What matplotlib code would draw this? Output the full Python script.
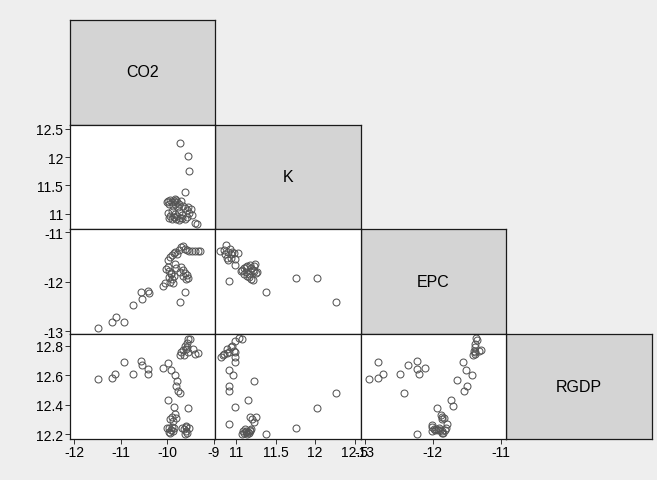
import matplotlib.pyplot as plt

plt.rcParams['font.family'] = ['Liberation Sans', 'DejaVu Sans']

names = ['CO2', 'K', 'EPC', 'RGDP']

# CO2 vs K
co2_k_x = [-9.73, -9.54, -9.52, -9.62,
           -10.00, -9.98, -9.95, -9.93, -9.90, -9.88, -9.86, -9.84, -9.82, -9.80, -9.78, -9.76,
           -9.97, -9.93, -9.90, -9.86, -9.83, -9.79, -9.75, -9.72, -9.68,
           -9.74, -9.70, -9.66, -9.62, -9.58, -9.55, -9.52, -9.49, -9.46,
           -9.95, -9.90, -9.85, -9.80, -9.74, -9.68, -9.62, -9.58, -9.40, -9.36]
co2_k_y = [12.25, 12.02, 11.76, 11.38,
           11.20, 11.23, 11.17, 11.24, 11.20, 11.14, 11.22, 11.26, 11.18, 11.24, 11.21, 11.12,
           11.02, 10.97, 11.05, 10.95, 11.00, 10.96, 11.04, 10.93, 10.98,
           11.18, 11.22, 11.14, 11.10, 11.06, 11.12, 11.02, 11.08, 10.98,
           10.92, 10.90, 10.94, 10.91, 10.89, 10.93, 10.90, 10.95, 10.84, 10.82]

# CO2 vs EPC
co2_epc_x = [-11.48, -11.19, -11.10, -10.92, -10.74, -10.54, -10.55, -10.40, -10.38, -10.08,
             -9.73, -9.62,
             -9.70, -9.66, -9.62, -9.58, -9.52, -9.46, -9.40, -9.34, -9.30,
             -9.97, -9.94, -9.90, -9.86, -9.82, -9.78, -9.75,
             -10.02, -9.98, -9.95, -9.92, -9.96, -9.90, -9.94, -9.88, -9.92, -9.86, -9.84, -9.80, -10.04,
             -9.70, -9.66, -9.62, -9.58, -9.54, -9.60, -9.66, -9.72]
co2_epc_y = [-12.93, -12.81, -12.72, -12.81, -12.47, -12.35, -12.21, -12.18, -12.22, -12.09,
             -12.42, -12.21,
             -11.30, -11.27, -11.33, -11.36, -11.38, -11.38, -11.38, -11.38, -11.38,
             -11.55, -11.50, -11.46, -11.42, -11.40, -11.44, -11.36,
             -11.75, -11.70, -11.78, -11.85, -11.90, -11.95, -12.00, -12.02, -11.82, -11.88, -11.65, -11.72, -12.03,
             -11.70, -11.76, -11.82, -11.86, -11.92, -11.95, -11.88, -11.80]

# CO2 vs RGDP
co2_gdp_x = [-11.48, -11.19, -11.11, -10.92, -10.74, -10.56, -10.54, -10.40, -10.41, -10.08,
             -9.97, -9.92, -9.82, -9.79, -9.81, -9.77, -9.72, -9.98, -9.86, -9.55,
             -9.83, -9.90, -9.94, -9.87, -9.80,
             -10.01, -9.96, -9.92, -9.88, -9.85, -9.93, -9.90, -9.95,
             -9.68, -9.64, -9.60, -9.57, -9.62, -9.59, -9.53, -9.60,
             -9.55, -9.51, -9.57, -9.62, -9.58, -9.65, -9.69, -9.72, -9.64, -9.54, -9.45, -9.39, -9.33, -9.60]
co2_gdp_y = [12.571, 12.582, 12.609, 12.689, 12.609, 12.696, 12.666, 12.643, 12.607, 12.650,
             12.684, 12.637, 12.598, 12.560, 12.526, 12.496, 12.480, 12.433, 12.385, 12.378,
             12.340, 12.320, 12.300, 12.290, 12.310,
             12.245, 12.240, 12.230, 12.220, 12.240, 12.210, 12.250, 12.215,
             12.245, 12.235, 12.220, 12.210, 12.200, 12.250, 12.240, 12.255,
             12.845, 12.845, 12.820, 12.800, 12.790, 12.770, 12.760, 12.740, 12.740, 12.760, 12.780, 12.745, 12.750, 12.780]

# K vs EPC
k_epc_x = [10.80, 10.87, 10.86, 10.90, 10.93, 10.95, 10.97, 11.02, 10.88, 10.90, 10.94, 10.98, 10.84, 10.92,
           10.98, 10.91,
           11.06, 11.08, 11.10, 11.12, 11.14, 11.17, 11.19, 11.21, 11.23, 11.25,
           11.10, 11.14, 11.16, 11.19, 11.21, 11.22, 11.24, 11.26, 11.12, 11.16,
           11.375, 11.76, 12.03, 12.26]
k_epc_y = [-11.38, -11.26, -11.44, -11.40, -11.44, -11.39, -11.42, -11.42, -11.52, -11.55, -11.51, -11.53, -11.36, -11.33,
           -11.67, -11.99,
           -11.79, -11.76, -11.73, -11.70, -11.68, -11.66, -11.73, -11.76, -11.79, -11.82,
           -11.84, -11.88, -11.91, -11.94, -11.97, -11.68, -11.63, -11.80, -11.80, -11.85,
           -12.21, -11.92, -11.92, -12.42]

# K vs RGDP
k_gdp_x = [11.03, 11.07, 10.99, 10.95, 10.93, 10.89, 10.91, 10.97, 10.99, 10.85, 10.81, 10.83, 10.89, 10.99,
           10.98, 10.91, 10.96, 11.23, 10.91, 10.91, 11.15, 10.98, 11.18, 11.20, 11.25, 11.23, 10.91,
           11.07, 11.09, 11.11, 11.13, 11.15, 11.17, 11.19, 11.14, 11.16, 11.12, 11.10, 11.18,
           11.375, 11.76, 12.03, 12.26]
k_gdp_y = [12.850, 12.845, 12.830, 12.800, 12.790, 12.780, 12.760, 12.765, 12.755, 12.745, 12.720, 12.735, 12.750, 12.720,
           12.689, 12.637, 12.598, 12.560, 12.530, 12.496, 12.433, 12.387, 12.320, 12.300, 12.320, 12.285, 12.270,
           12.200, 12.225, 12.235, 12.225, 12.215, 12.230, 12.235, 12.200, 12.205, 12.215, 12.210, 12.220,
           12.200, 12.240, 12.380, 12.480]

# EPC vs RGDP
epc_gdp_x = [-12.93, -12.80, -12.80, -12.73, -12.48, -12.36, -12.23, -12.23, -12.21, -12.12, -12.43, -11.94, -12.23,
             -11.88, -11.86, -11.84, -11.87,
             -12.02, -12.01, -11.99, -11.97, -11.95, -11.93, -11.91, -11.89, -11.87, -11.85, -11.83, -11.81, -12.02, -11.87, -11.80,
             -11.71, -11.73, -11.54, -11.50, -11.65, -11.43, -11.51, -11.56,
             -11.37, -11.36, -11.38, -11.39, -11.40, -11.38, -11.33, -11.29, -11.41, -11.39]
epc_gdp_y = [12.571, 12.689, 12.580, 12.609, 12.609, 12.666, 12.696, 12.639, 12.605, 12.650, 12.480, 12.378, 12.202,
             12.330, 12.320, 12.310, 12.300,
             12.260, 12.250, 12.235, 12.230, 12.235, 12.230, 12.240, 12.230, 12.220, 12.210, 12.230, 12.240, 12.220, 12.210, 12.270,
             12.390, 12.430, 12.496, 12.530, 12.564, 12.598, 12.637, 12.689,
             12.852, 12.835, 12.810, 12.790, 12.765, 12.755, 12.765, 12.770, 12.740, 12.745]

lims = {'CO2': (-12.086, -8.97), 'K': (10.732, 12.575),
        'EPC': (-13.06, -10.93), 'RGDP': (12.171, 12.879)}
ticks = {'CO2': [-12, -11, -10, -9], 'K': [11, 11.5, 12, 12.5],
         'EPC': [-13, -12, -11], 'RGDP': [12.2, 12.4, 12.6, 12.8]}
labels = {'CO2': ['-12', '-11', '-10', '-9'], 'K': ['11', '11.5', '12', '12.5'],
          'EPC': ['-13', '-12', '-11'], 'RGDP': ['12.2', '12.4', '12.6', '12.8']}

pairs = {(1, 0): (co2_k_x, co2_k_y), (2, 0): (co2_epc_x, co2_epc_y),
         (3, 0): (co2_gdp_x, co2_gdp_y), (2, 1): (k_epc_x, k_epc_y),
         (3, 1): (k_gdp_x, k_gdp_y), (3, 2): (epc_gdp_x, epc_gdp_y)}

W, H = 657, 481
cx = [70, 215, 360.5, 506, 651.5]
ry = [20.5, 125.5, 230, 335, 439.5]

fig = plt.figure(figsize=(W / 100, H / 100), dpi=100, facecolor='#eeeeee')


def make_ax(r, c):
    x0, x1 = cx[c], cx[c + 1]
    y0, y1 = ry[r], ry[r + 1]
    return fig.add_axes([x0 / W, 1 - y1 / H, (x1 - x0) / W, (y1 - y0) / H])


for i, name in enumerate(names):
    ax = make_ax(i, i)
    ax.set_facecolor('#d4d4d4')
    ax.set_xticks([])
    ax.set_yticks([])
    ax.text(0.5, 0.5, name, transform=ax.transAxes, ha='center', va='center',
            fontsize=11.5, color='black')
    for s in ax.spines.values():
        s.set_linewidth(0.9)
        s.set_color('#1a1a1a')

for (r, c), (xs, ys) in pairs.items():
    ax = make_ax(r, c)
    ax.set_facecolor('white')
    ax.plot(xs, ys, 'o', ms=5, mfc='none', mec='#555555', mew=0.75)
    ax.set_xlim(lims[names[c]])
    ax.set_ylim(lims[names[r]])
    ax.tick_params(length=3.5, width=0.7, pad=1.5, labelsize=10, color='#333333')
    if r == 3:
        ax.set_xticks(ticks[names[c]])
        ax.set_xticklabels(labels[names[c]])
    else:
        ax.set_xticks([])
    if c == 0:
        ax.set_yticks(ticks[names[r]])
        ax.set_yticklabels(labels[names[r]])
    else:
        ax.set_yticks([])
    for s in ax.spines.values():
        s.set_linewidth(0.9)
        s.set_color('#1a1a1a')

fig.savefig('out.png', dpi=100, facecolor=fig.get_facecolor())
